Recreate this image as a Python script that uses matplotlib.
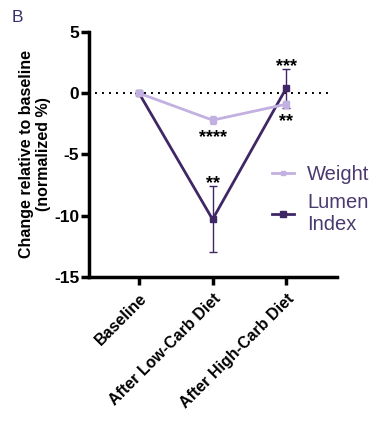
import matplotlib.pyplot as plt
import numpy as np
from matplotlib.lines import Line2D

# data
conditions = ["Baseline", "After Low-Carb Diet", "After High-Carb Diet"]
weight = [0.0, -2.2, -0.9]
weight_err = [0.0, 0.3, 0.3]
lumen = [0.0, -10.3, 0.4]
lumen_err = [0.0, 2.7, 1.6]
weight_stars = ["", "****", "**"]
lumen_stars = ["", "**", "***"]

light = "#c2b0e0"
dark = "#3f2765"

plt.rcParams["font.family"] = ["Liberation Sans", "DejaVu Sans"]
plt.rcParams["axes.unicode_minus"] = False

fig = plt.figure(figsize=(3.82, 4.32), dpi=100)
ax = fig.add_axes([0.233, 0.359, 0.649, 0.567])

x = np.arange(len(conditions))
ax.hlines(0, -0.6, 2.6, color="black", lw=1.4, ls=(0, (1, 2.6)), zorder=1)

ax.errorbar(x, weight, yerr=weight_err, color=light, lw=2, marker="s", ms=4,
            capsize=2, elinewidth=1, zorder=3)
ax.errorbar(x, lumen, yerr=lumen_err, color=dark, lw=2, marker="s", ms=5,
            capsize=3, elinewidth=1, zorder=2)

for i in x:
    if weight_stars[i]:
        ax.text(i, weight[i] - weight_err[i] - 0.4, weight_stars[i], ha="center",
                va="top", fontsize=13, fontweight="bold")
    if lumen_stars[i]:
        ax.text(i, lumen[i] + lumen_err[i] - 0.5, lumen_stars[i], ha="center",
                va="bottom", fontsize=13, fontweight="bold")

ax.set_xlim(-0.68, 2.69)
ax.set_ylim(-15, 5)
ax.set_yticks([5, 0, -5, -10, -15])
ax.set_xticks(x)
ax.set_xticklabels(conditions, rotation=45, ha="right", rotation_mode="anchor",
                   fontsize=11.5, fontweight="bold")
for t in ax.get_yticklabels():
    t.set_fontweight("bold")
    t.set_fontsize(12.5)

for s in ["top", "right"]:
    ax.spines[s].set_visible(False)
for s in ["left", "bottom"]:
    ax.spines[s].set_linewidth(2.5)
ax.tick_params(width=2.5, length=6, pad=1)
ax.tick_params(axis="x", pad=4)

ax.set_ylabel("Change relative to baseline\n(normalized %)", fontsize=11.5,
              fontweight="bold", labelpad=2)

handles = [Line2D([], [], color=light, lw=2, marker="s", ms=3),
           Line2D([], [], color=dark, lw=2, marker="s", ms=4)]
leg = fig.legend(handles, ["Weight", "Lumen\nIndex"], loc="upper left",
                 bbox_to_anchor=(0.665, 0.66), frameon=False, fontsize=14.5,
                 handlelength=1.1, handletextpad=0.65, labelspacing=0.45)
for t in leg.get_texts():
    t.set_color("#4a3a70")

fig.text(0.03, 0.96, "B", fontsize=12.5, color="#3d2d6b", va="center")

fig.savefig("out.png", dpi=100)
